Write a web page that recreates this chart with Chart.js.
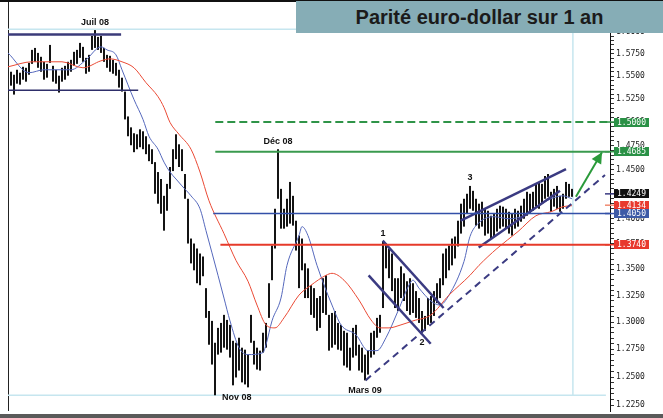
<!DOCTYPE html>
<html><head><meta charset="utf-8">
<script src="https://cdn.jsdelivr.net/npm/chart.js@4/dist/chart.umd.min.js"></script>
<style>
html,body{margin:0;padding:0;background:#fff;}
#wrap{position:relative;width:663px;height:418px;overflow:hidden;background:#fff;}
#c{position:absolute;left:0;top:0;width:663px;height:418px;}
#topline{position:absolute;left:0;top:0;width:663px;height:2px;background:#111;}
#title{position:absolute;left:296px;top:1px;width:367px;height:32px;background:#86adb6;color:#1b1b1b;font-family:"Liberation Sans",Arial,sans-serif;font-weight:bold;font-size:20px;line-height:33px;text-align:center;letter-spacing:0;white-space:nowrap;}
#bottom{position:absolute;left:0;top:414px;width:663px;height:4px;background:#5a5a5a;}
</style></head>
<body><div id="wrap"><canvas id="c" width="663" height="418"></canvas><div id="topline"></div><div id="title">Parité euro-dollar sur 1 an</div><div id="bottom"></div></div>
<script>
// ---- data (EUR/USD daily bars) ----
const highs = [1.5549,1.5516,1.5571,1.5538,1.5604,1.5593,1.5648,1.5794,1.5816,1.5760,
1.5716,1.5660,1.5637,1.5850,1.5615,1.5571,1.5505,1.5593,1.5615,1.5660,
1.5682,1.5772,1.5794,1.5873,1.5828,1.5704,1.5738,1.5952,1.6019,1.5941,
1.5952,1.5816,1.5738,1.5727,1.5682,1.5648,1.5571,1.5483,1.5330,1.5060,
1.4943,1.4880,1.4869,1.4922,1.4901,1.4848,1.4763,1.4711,1.4576,1.4473,
1.4401,1.4229,1.4351,1.4525,1.4711,1.4869,1.4763,1.4711,1.4453,1.4199,
1.3801,1.3752,1.3703,1.3654,1.3625,1.3320,1.3104,1.3012,1.2810,1.2947,
1.2993,1.3068,1.3021,1.2975,1.2828,1.2810,1.2856,1.2765,1.2747,1.2702,
1.3068,1.2828,1.2765,1.2738,1.2902,1.2993,1.3367,1.3732,1.4098,1.4711,
1.4300,1.4098,1.4199,1.4371,1.4229,1.3978,1.3830,1.3801,1.3558,1.3510,
1.3348,1.3320,1.3226,1.3245,1.3415,1.3443,1.3068,1.3086,1.3104,1.2993,
1.2975,1.2920,1.2902,1.2765,1.2947,1.2975,1.2792,1.2765,1.2702,1.2738,
1.2902,1.2920,1.3040,1.3068,1.3772,1.3752,1.3703,1.3654,1.3415,1.3415,
1.3529,1.3462,1.3386,1.3415,1.3367,1.3292,1.3226,1.3104,1.3058,1.3226,
1.3245,1.3292,1.3367,1.3415,1.3654,1.3703,1.3732,1.3801,1.3821,1.3978,
1.4149,1.4199,1.4250,1.4330,1.4280,1.4199,1.4149,1.4169,1.4098,1.4078,
1.4028,1.4048,1.4098,1.4129,1.4119,1.4098,1.4068,1.4048,1.4098,1.4078,
1.4129,1.4199,1.4270,1.4250,1.4270,1.4351,1.4371,1.4351,1.4432,1.4453,
1.4270,1.4300,1.4330,1.4229,1.4250,1.4371,1.4351,1.4300];
const lows = [1.5395,1.5297,1.5417,1.5406,1.5461,1.5439,1.5516,1.5637,1.5660,1.5593,
1.5549,1.5461,1.5483,1.5648,1.5439,1.5417,1.5319,1.5439,1.5461,1.5505,
1.5549,1.5615,1.5637,1.5704,1.5660,1.5527,1.5549,1.5794,1.5816,1.5794,
1.5760,1.5660,1.5593,1.5549,1.5527,1.5505,1.5374,1.5330,1.5028,1.4848,
1.4753,1.4680,1.4711,1.4732,1.4711,1.4659,1.4586,1.4556,1.4250,1.4149,
1.4048,1.3879,1.4078,1.4300,1.4483,1.4607,1.4525,1.4483,1.4199,1.3752,
1.3558,1.3491,1.3367,1.3348,1.3434,1.3040,1.2792,1.2612,1.2338,1.2702,
1.2720,1.2765,1.2747,1.2675,1.2426,1.2496,1.2558,1.2452,1.2434,1.2408,
1.2810,1.2612,1.2567,1.2558,1.2720,1.2765,1.3040,1.3396,1.3703,1.4199,
1.3899,1.3899,1.3919,1.3949,1.3929,1.3683,1.3320,1.3491,1.3226,1.3226,
1.3068,1.3040,1.2920,1.2947,1.3086,1.3068,1.2738,1.2765,1.2792,1.2747,
1.2738,1.2603,1.2585,1.2558,1.2675,1.2693,1.2558,1.2540,1.2470,1.2522,
1.2675,1.2702,1.2856,1.2902,1.3132,1.3510,1.3415,1.3292,1.3132,1.3104,
1.3226,1.3198,1.3104,1.3068,1.3086,1.3040,1.2993,1.2902,1.2920,1.2975,
1.2993,1.3058,1.3179,1.3226,1.3348,1.3415,1.3491,1.3539,1.3606,1.3723,
1.3850,1.3919,1.4048,1.4098,1.4078,1.3929,1.3899,1.3919,1.3830,1.3850,
1.3801,1.3821,1.3870,1.3899,1.3919,1.3899,1.3850,1.3830,1.3899,1.3919,
1.3968,1.3998,1.4028,1.4048,1.4078,1.4119,1.4098,1.4149,1.4199,1.4219,
1.4068,1.4119,1.4098,1.4068,1.4098,1.4199,1.4219,1.4219];

// short moving average (blue) : day index / value
const maShortDay = [-1,6,11,16,20,25,30,32,35,37,41,44,46,49,51,53,55,57,60,63,65,69,71,73,76,79,84,85,87,90,92,96,97,99,102,107,110,115,119,122,125,129,133,134,136,140,143,146,151,153,156,161,166,171,176,180,184,187];
const maShortVal = [1.5760,1.5538,1.5571,1.5571,1.5571,1.5682,1.5828,1.5794,1.5738,1.5571,1.5243,1.5028,1.4848,1.4711,1.4576,1.4473,1.4401,1.4330,1.4229,1.4098,1.3879,1.3443,1.3226,1.3012,1.2765,1.2702,1.2720,1.2792,1.3012,1.3226,1.3539,1.3830,1.3919,1.3830,1.3539,1.3160,1.2975,1.2883,1.2738,1.2738,1.2856,1.3104,1.3367,1.3396,1.3320,1.3198,1.3160,1.3254,1.3577,1.3821,1.3958,1.4018,1.3998,1.4028,1.4129,1.4199,1.4229,1.4199];
// long moving average (red)
const maLongDay = [-1,7,17,24,30,33,37,41,45,49,51,53,56,60,63,66,71,75,79,82,85,88,91,96,100,105,107,111,116,120,123,126,130,134,140,146,153,156,162,169,175,180,184,187];
const maLongVal = [1.5604,1.5660,1.5660,1.5593,1.5671,1.5693,1.5660,1.5593,1.5428,1.5275,1.5157,1.4996,1.4869,1.4711,1.4473,1.4179,1.3850,1.3587,1.3386,1.3160,1.2975,1.2947,1.3040,1.3254,1.3348,1.3443,1.3462,1.3396,1.3207,1.3021,1.2947,1.2947,1.2975,1.3012,1.3068,1.3254,1.3443,1.3539,1.3703,1.3870,1.4028,1.4068,1.4119,1.4129];

// horizontal levels
const levelPrices = [1.5000, 1.4685, 1.4050, 1.3740];
const levelFrom = [68.1, 68.1, 67.4, 69.8];
const levelTo = 199.6;

// hand-drawn lines [day, price]
const juilTop = [[-1, 1.5970], [36.7, 1.5970]];
const juilSupport = [[-1, 1.5345], [42.4, 1.5345]];
const fallUpper = [[123.9, 1.3781], [144.2, 1.3132]];
const fallLower = [[119.2, 1.3443], [139.9, 1.2801]];
const riseSupport = [[118.2, 1.2470], [198.0, 1.4442]];
const riseUpper = [[149.9, 1.3978], [185.0, 1.4504]];
const riseLower = [[155.9, 1.3713], [183.0, 1.4280]];
const arrowPath = [[188.3, 1.4219], [197.0, 1.4680]];
const rangeHigh = [[-1, 1.6030], [187.3, 1.6030]];
const rangeLow = [[-1, 1.2338], [198.3, 1.2338]];
const lastDay = [[187.3, 1.2338], [187.3, 1.6030]];

// annotations
const noteTexts = ['Juil 08', 'Déc 08', 'Nov 08', 'Mars 09', '1', '2', '3'];
const noteDay = [28, 89, 68, 118, 124, 137, 153];
const notePrice = [1.6019, 1.4711, 1.2338, 1.2470, 1.3772, 1.2902, 1.4330];

// axis tick labels and marker boxes
const tickLabels = ['1.2250','1.2500','1.2750','1.3000','1.3250','1.3500','1.3750','1.4000','1.4250','1.4500','1.4750','1.5000','1.5250','1.5500','1.5750','1.6000'];
const markerValues = [1.5000, 1.4685, 1.4249, 1.4134, 1.4050, 1.3740];

// ---- chart ----
const majors = tickLabels.map(Number);
const toPts = arr => arr.map(p => ({x: p[0], y: p[1]}));
function lineDs(pts, color, width, extra) {
  return Object.assign({type: 'line', data: toPts(pts), borderColor: color, borderWidth: width,
    pointRadius: 0, fill: false, tension: 0, order: 1}, extra || {});
}
const datasets = [];
datasets.push(lineDs(rangeHigh, '#c6e6ef', 1.5, {order: 20}));
datasets.push(lineDs(rangeLow, '#c6e6ef', 1.5, {order: 20}));
datasets.push(lineDs(lastDay, '#c6e6ef', 1.5, {order: 20}));
datasets.push({type: 'bar', data: highs.map((h, i) => ({x: i, y: [lows[i], h]})),
  backgroundColor: '#141414', barThickness: 2, borderWidth: 0, inflateAmount: 0, borderSkipped: false, grouped: false, order: 10});
datasets.push({type: 'line', data: maLongDay.map((d, i) => ({x: d, y: maLongVal[i]})),
  borderColor: '#ea4a35', borderWidth: 1, pointRadius: 0, fill: false, cubicInterpolationMode: 'monotone', order: 5});
datasets.push({type: 'line', data: maShortDay.map((d, i) => ({x: d, y: maShortVal[i]})),
  borderColor: '#5568bc', borderWidth: 1, pointRadius: 0, fill: false, cubicInterpolationMode: 'monotone', order: 5});
const levelStyles = [
  {c: '#2f9448', w: 2, dash: [8, 4]},
  {c: '#3a9a4e', w: 2, dash: []},
  {c: '#3350a8', w: 1.5, dash: []},
  {c: '#e63a2a', w: 2, dash: []}
];
levelPrices.forEach((p, k) => {
  datasets.push(lineDs([[levelFrom[k], p], [levelTo, p]], levelStyles[k].c, levelStyles[k].w, {borderDash: levelStyles[k].dash}));
});
const navy = '#3b3b82';
datasets.push(lineDs(juilTop, '#3b3b7a', 2.5));
datasets.push(lineDs(juilSupport, '#2e2e6a', 1.5));
datasets.push(lineDs(fallUpper, navy, 2.5));
datasets.push(lineDs(fallLower, navy, 2.5));
datasets.push(lineDs(riseUpper, navy, 2.5));
datasets.push(lineDs(riseLower, navy, 2.5));
datasets.push(lineDs(riseSupport, navy, 2, {borderDash: [7, 5]}));
const arrowIndex = datasets.length;
datasets.push(lineDs(arrowPath, '#2a9a3a', 2));

const markerColors = ['#2a9146', '#2a9146', '#111111', '#e8392e', '#3d5aa6', '#e8392e'];
const leadColors = ['#2f9448', '#3a9a4e', '#3b3b82', '#f08a70', '#3350a8', '#e63a2a'];
const notePlace = ['above', 'above', 'right', 'below', 'above', 'below', 'above'];

const decor = {
  id: 'decor',
  beforeDatasetsDraw(chart) {
    const c = chart.ctx, a = chart.chartArea;
    c.save();
    c.strokeStyle = '#222'; c.lineWidth = 1;
    c.beginPath(); c.moveTo(a.left + 0.5, 2); c.lineTo(a.left + 0.5, a.bottom); c.stroke();
    c.restore();
  },
  afterDatasetsDraw(chart) {
    const c = chart.ctx, xs = chart.scales.x, ys = chart.scales.y;
    const pts = chart.getDatasetMeta(arrowIndex).data;
    const p0 = pts[0], p1 = pts[pts.length - 1];
    const ang = Math.atan2(p1.y - p0.y, p1.x - p0.x);
    const L = 11, W = 5.5;
    c.save();
    c.fillStyle = '#2a9a3a';
    c.beginPath();
    c.moveTo(p1.x, p1.y);
    c.lineTo(p1.x - L * Math.cos(ang) + W * Math.sin(ang), p1.y - L * Math.sin(ang) - W * Math.cos(ang));
    c.lineTo(p1.x - L * Math.cos(ang) - W * Math.sin(ang), p1.y - L * Math.sin(ang) + W * Math.cos(ang));
    c.closePath(); c.fill();
    c.fillStyle = '#111';
    c.font = 'bold 9px "Liberation Sans", Arial, sans-serif';
    c.textBaseline = 'middle';
    noteTexts.forEach((t, k) => {
      const x = xs.getPixelForValue(noteDay[k]);
      const y = ys.getPixelForValue(notePrice[k]);
      const pl = notePlace[k];
      if (pl === 'above') { c.textAlign = 'center'; c.fillText(t, x, y - 8); }
      else if (pl === 'below') { c.textAlign = 'center'; c.fillText(t, x, y + 10); }
      else { c.textAlign = 'left'; c.fillText(t, x + 7, y + 2); }
    });
    c.restore();
  },
  afterDraw(chart) {
    const c = chart.ctx, ys = chart.scales.y, a = chart.chartArea;
    c.save();
    c.font = '8px "DejaVu Sans Mono", monospace';
    c.textAlign = 'center'; c.textBaseline = 'middle';
    markerValues.forEach((v, k) => {
      const y = ys.getPixelForValue(v);
      c.strokeStyle = leadColors[k]; c.lineWidth = 1.5;
      c.beginPath(); c.moveTo(a.right - 5, y); c.lineTo(a.right + 5, y); c.stroke();
      c.fillStyle = markerColors[k];
      c.fillRect(a.right + 4, Math.round(y - 4.5), 35, 9);
      c.fillStyle = '#fff';
      c.fillText(v.toFixed(4), a.right + 21.5, y + 0.5);
    });
    c.restore();
  }
};

new Chart(document.getElementById('c'), {
  type: 'bar',
  data: {datasets},
  options: {
    responsive: false, animation: false, devicePixelRatio: 1,
    layout: {padding: {left: 8, top: 28, right: 0, bottom: 7}},
    plugins: {legend: {display: false}, tooltip: {enabled: false}, title: {display: false}},
    scales: {
      x: {type: 'linear', min: -1, max: 199.667, display: false, offset: false},
      y: {
        type: 'logarithmic', position: 'right', min: 1.2224, max: 1.6043,
        afterBuildTicks: s => {
          const t = [];
          for (let k = 0; k < majors.length; k++) {
            t.push({value: majors[k]});
            if (k < majors.length - 1) for (let m = 1; m < 5; m++) t.push({value: majors[k] + 0.005 * m});
          }
          s.ticks = t;
        },
        afterFit: s => { s.width = 53; },
        ticks: {
          autoSkip: false, maxRotation: 0, padding: 2, color: '#222',
          font: {family: '"DejaVu Sans Mono", monospace', size: 8},
          callback: v => { const k = majors.findIndex(m => Math.abs(m - v) < 1e-6); return k >= 0 ? tickLabels[k] : ''; }
        },
        grid: {drawOnChartArea: false, drawTicks: true, tickLength: 4, color: '#333', lineWidth: 1},
        border: {display: true, color: '#111', width: 1}
      }
    }
  },
  plugins: [decor]
});
</script>
</body></html>
